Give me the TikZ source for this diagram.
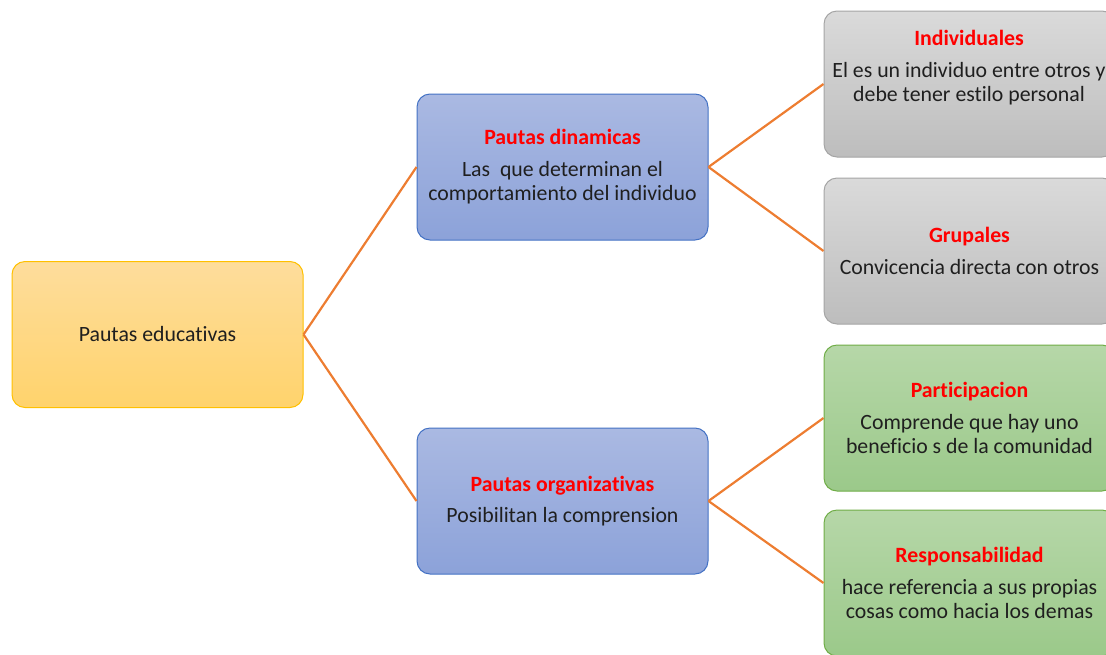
\documentclass[tikz,border=0pt]{standalone}
\usepackage{fontspec}
\setmainfont{Carlito}[Ligatures={NoCommon}]
\definecolor{conn}{HTML}{ED7D31}
\definecolor{txt}{HTML}{1F1F1F}
\definecolor{ttl}{HTML}{FF0000}
\definecolor{RootLine}{HTML}{FFC000}
\definecolor{RootTop}{HTML}{FEDD9C}
\definecolor{RootBot}{HTML}{FFD36C}
\definecolor{BlueLine}{HTML}{4472C4}
\definecolor{BlueTop}{HTML}{AAB9E2}
\definecolor{BlueBot}{HTML}{8CA2D9}
\definecolor{GrayLine}{HTML}{A5A5A5}
\definecolor{GrayTop}{HTML}{DADADA}
\definecolor{GrayBot}{HTML}{BDBDBD}
\definecolor{GreenLine}{HTML}{70AD47}
\definecolor{GreenTop}{HTML}{B6D7A8}
\definecolor{GreenBot}{HTML}{9BC98A}
\tikzset{
  x=1pt, y=-1pt,
  box/.style={rectangle, rounded corners=13pt, minimum width=291pt, minimum height=146pt,
    inner sep=0pt, line width=1pt, align=center, text=txt,
    font=\fontsize{21.8}{24.5}\selectfont},
  rootbox/.style={box, draw=RootLine, top color=RootTop, bottom color=RootBot},
  bluebox/.style={box, draw=BlueLine, top color=BlueTop, bottom color=BlueBot},
  graybox/.style={box, draw=GrayLine, top color=GrayTop, bottom color=GrayBot},
  greenbox/.style={box, draw=GreenLine, top color=GreenTop, bottom color=GreenBot},
  link/.style={draw=conn, line width=2.2pt},
  lbl/.style={align=center, text=txt, inner sep=0pt, font=\fontsize{21.8}{24.5}\selectfont},
}
\newcommand{\ttlx}[1]{{\bfseries\color{ttl}#1}}
\begin{document}
\begin{tikzpicture}
\useasboundingbox (0,0) rectangle (1106,654);
\clip (0,0) rectangle (1106,654);
\node[rootbox] (root) at (157.5,334.5) {Pautas educativas};
\node[bluebox] (din) at (562.5,167) {\ttlx{Pautas dinamicas}\\[7pt]Las\ \ que determinan el\\comportamiento del individuo};
\node[bluebox] (org) at (562.5,501) {\ttlx{Pautas organizativas}\\[7pt]Posibilitan la comprension};
\node[graybox] (ind) at (969.5,84) {};
\node[lbl] (indt) at (969,68) {\ttlx{Individuales}\\[7pt]El es un individuo entre otros y\\debe tener estilo personal};
\node[graybox] (gru) at (969.5,251) {\ttlx{Grupales}\\[7pt]Convicencia directa con otros};
\node[greenbox] (par) at (969.5,418) {\ttlx{Participacion}\\[7pt]Comprende que hay uno\\beneficio s de la comunidad};
\node[greenbox] (res) at (969.5,583) {\ttlx{Responsabilidad}\\[7pt]hace referencia a sus propias\\cosas como hacia los demas};
\draw[link] (root.east) -- (din.west);
\draw[link] (root.east) -- (org.west);
\draw[link] (din.east) -- (ind.west);
\draw[link] (din.east) -- (gru.west);
\draw[link] (org.east) -- (par.west);
\draw[link] (org.east) -- (res.west);
\end{tikzpicture}
\end{document}
